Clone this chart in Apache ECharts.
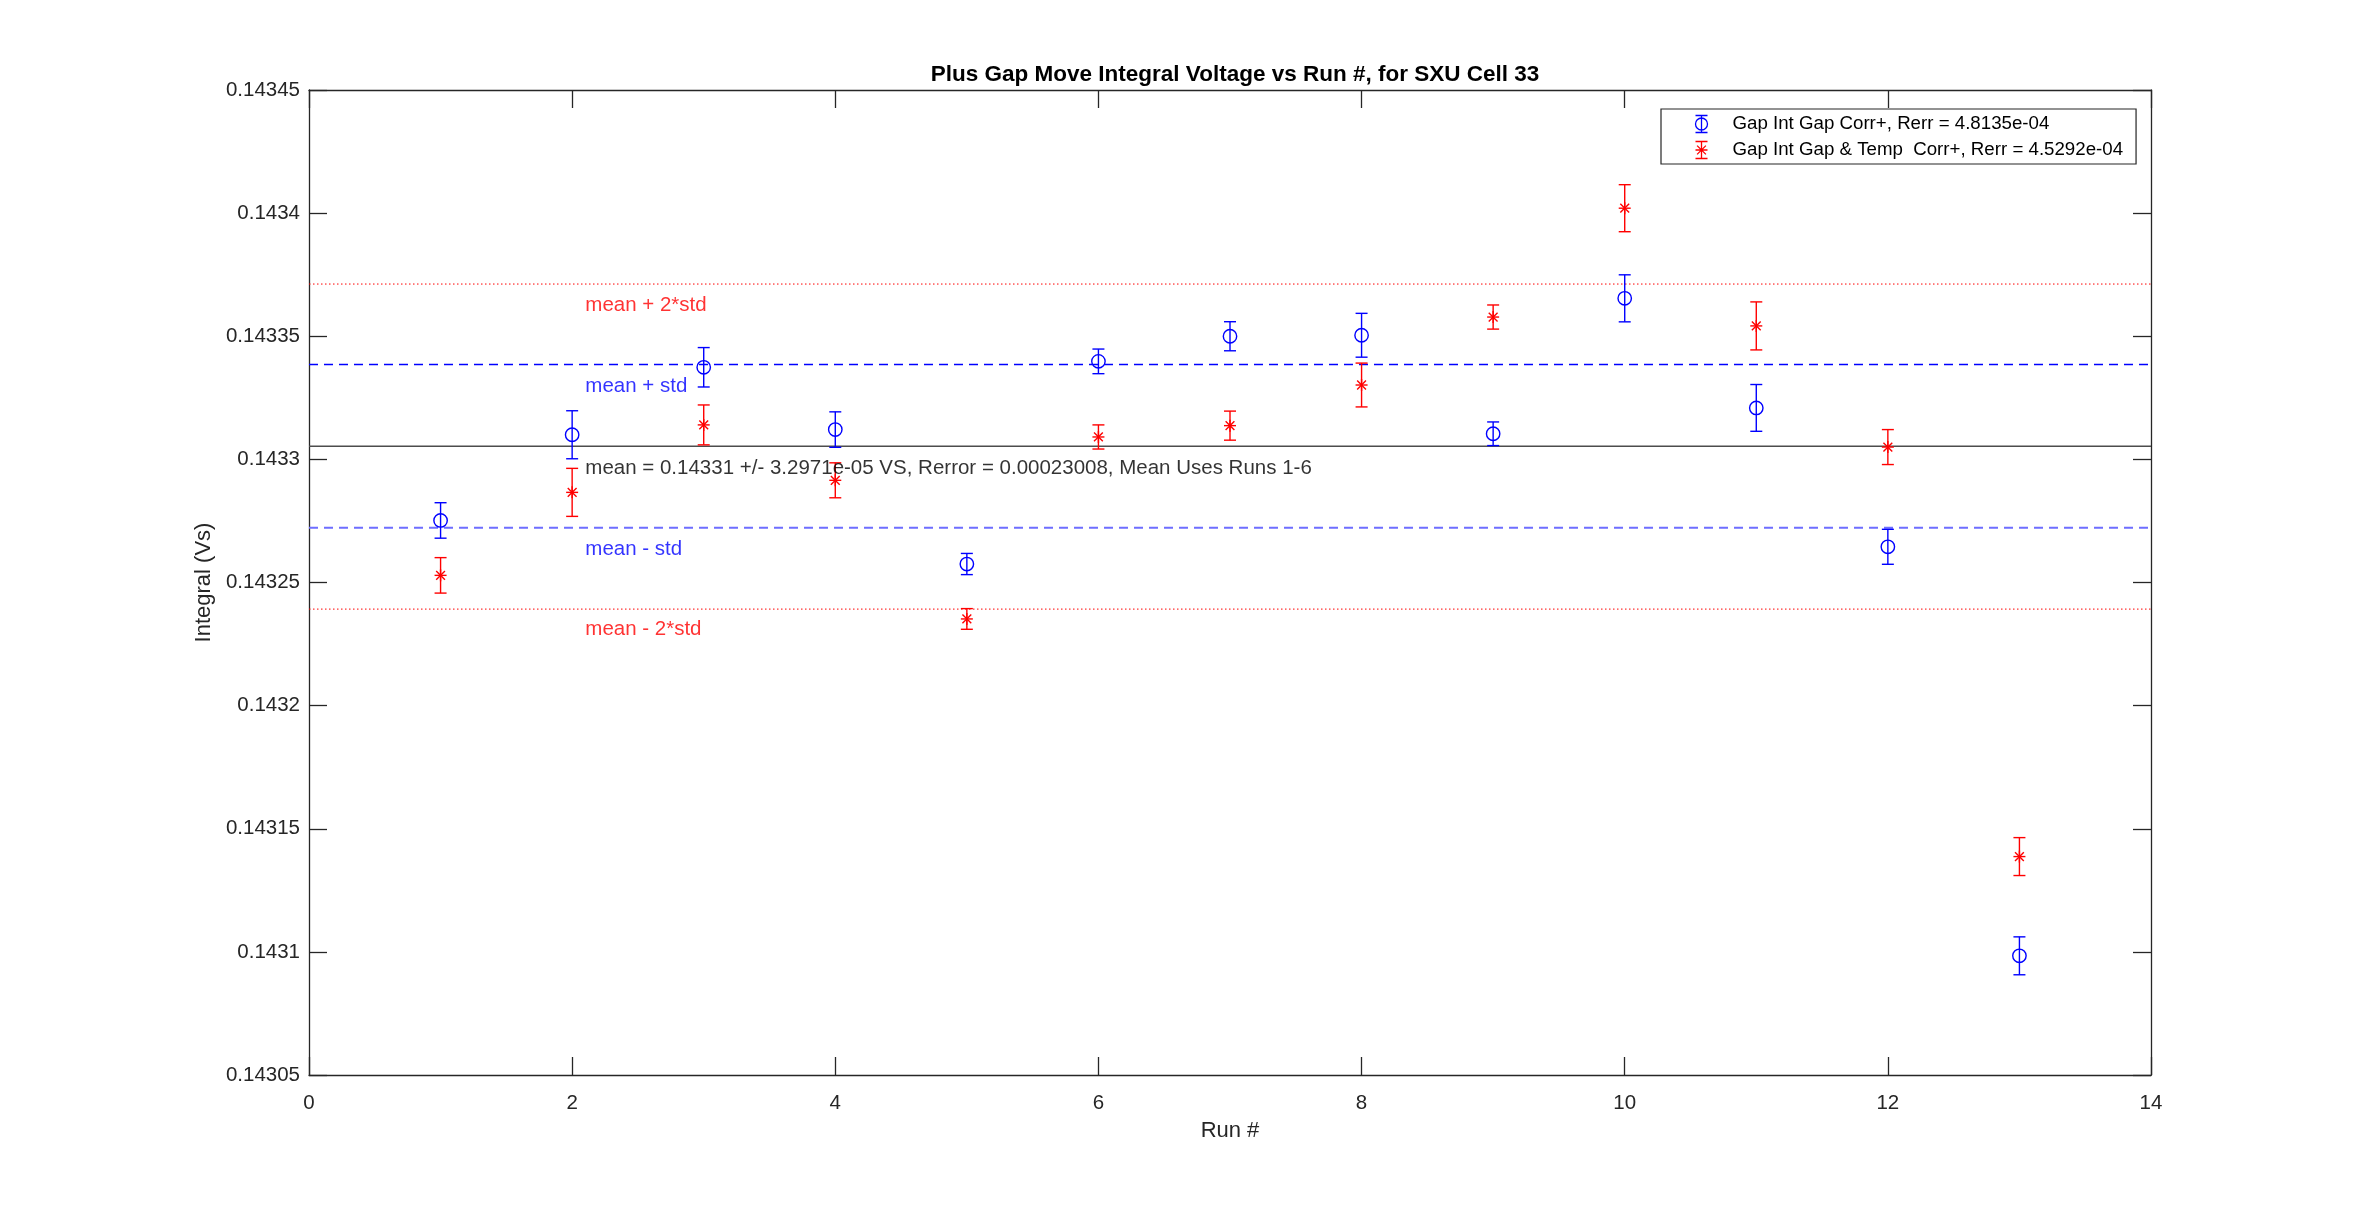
<!DOCTYPE html>
<html><head><meta charset="utf-8">
<script src="https://cdn.jsdelivr.net/npm/echarts@6/dist/echarts.min.js"></script>
<style>html,body{margin:0;padding:0;background:#fff}#chart{width:2378px;height:1210px}</style>
</head><body><div id="chart"></div>
<script>
// ---------------- data ----------------
const runs = [1, 2, 3, 4, 5, 6, 7, 8, 9, 10, 11, 12, 13];
const gapCorr = [0.1432752, 0.1433100, 0.1433374, 0.1433121, 0.1432575, 0.1433398, 0.1433500,
                 0.1433504, 0.1433104, 0.1433654, 0.1433209, 0.1432645, 0.1430984];
const gapCorrErr = [7.2e-6, 9.75e-6, 8.0e-6, 7.2e-6, 4.3e-6, 5.0e-6, 5.9e-6,
                    8.9e-6, 4.8e-6, 9.55e-6, 9.5e-6, 7.1e-6, 7.7e-6];
const gapTempCorr = [0.1432529, 0.1432866, 0.1433140, 0.1432915, 0.1432352, 0.1433091, 0.1433137,
                     0.1433302, 0.1433578, 0.1434020, 0.1433542, 0.1433050, 0.1431387];
const gapTempCorrErr = [7.2e-6, 9.75e-6, 8.1e-6, 7.1e-6, 4.2e-6, 4.9e-6, 5.9e-6,
                        8.9e-6, 4.9e-6, 9.55e-6, 9.75e-6, 7.1e-6, 7.7e-6];
const seriesNames = ['Gap Int Gap Corr+, Rerr = 4.8135e-04',
                     'Gap Int Gap & Temp  Corr+, Rerr = 4.5292e-04'];
const refLineNames = ['mean + 2*std', 'mean + std', 'mean', 'mean - std', 'mean - 2*std'];
const refLineValues = [0.1433712, 0.1433385, 0.1433053, 0.1432722, 0.1432392];
const annotationTexts = ['mean + 2*std', 'mean + std',
  'mean = 0.14331 +/- 3.2971e-05 VS, Rerror = 0.00023008, Mean Uses Runs 1-6',
  'mean - std', 'mean - 2*std'];
const annotationX = [2.1, 2.1, 2.1, 2.1, 2.1];
const annotationY = [0.1433626, 0.1433298, 0.1432965, 0.1432636, 0.1432308];
const xMin = 0, xMax = 14, xStep = 2;
const yMin = 0.14305, yMax = 0.14345, yStep = 0.00005;
const titleText = 'Plus Gap Move Integral Voltage vs Run #, for SXU Cell 33';
const xName = 'Run #';
const yName = 'Integral (Vs)';

// ---------------- styles ----------------
const BLUE = '#0000ff', RED = '#ff0000', AX = '#262626';
const FONT = '"Liberation Sans", Arial, Helvetica, sans-serif';
const refLineStyles = [
  { color: RED, width: 1, type: [1.5, 2.5] },
  { color: BLUE, width: 1.5, type: [9, 6] },
  { color: '#4d4d4d', width: 1.6, type: 'solid' },
  { color: '#6e6eff', width: 2, type: [9, 6] },
  { color: RED, width: 1, type: [1.5, 2.5] }
];
const annotationColors = [RED, BLUE, '#000000', BLUE, RED];

function makeRender(color, marker) {
  return function (params, api) {
    const x = api.value(0), y = api.value(1), e = api.value(2);
    const c = api.coord([x, y]);
    const t = api.coord([x, y + e]);
    const b = api.coord([x, y - e]);
    const cap = 6, lw = 1.4;
    const st = { stroke: color, lineWidth: lw, fill: 'none' };
    const ch = [
      { type: 'line', shape: { x1: c[0], y1: t[1], x2: c[0], y2: b[1] }, style: st },
      { type: 'line', shape: { x1: c[0] - cap, y1: t[1], x2: c[0] + cap, y2: t[1] }, style: st },
      { type: 'line', shape: { x1: c[0] - cap, y1: b[1], x2: c[0] + cap, y2: b[1] }, style: st }
    ];
    if (marker === 'circle') {
      ch.push({ type: 'circle', shape: { cx: c[0], cy: c[1], r: 6.7 }, style: st });
    } else {
      const r = 6, d = 4.4;
      ch.push({ type: 'line', shape: { x1: c[0] - r, y1: c[1], x2: c[0] + r, y2: c[1] }, style: st });
      ch.push({ type: 'line', shape: { x1: c[0], y1: c[1] - r, x2: c[0], y2: c[1] + r }, style: st });
      ch.push({ type: 'line', shape: { x1: c[0] - d, y1: c[1] - d, x2: c[0] + d, y2: c[1] + d }, style: st });
      ch.push({ type: 'line', shape: { x1: c[0] - d, y1: c[1] + d, x2: c[0] + d, y2: c[1] - d }, style: st });
    }
    return { type: 'group', children: ch };
  };
}

const blueData = runs.map((r, i) => [r, gapCorr[i], gapCorrErr[i]]);
const redData = runs.map((r, i) => [r, gapTempCorr[i], gapTempCorrErr[i]]);
const annData = annotationTexts.map((t, i) => ({
  value: [annotationX[i], annotationY[i]],
  label: { formatter: t, color: annotationColors[i] }
}));

const iconBlue = 'path://M0,0.5L12,0.5M6,0.5L6,17.5M0,17.5L12,17.5M12,9A6,6 0 1 1 0,9A6,6 0 1 1 12,9';
const iconRed = 'path://M0,0.5L12,0.5M6,0.5L6,17.5M0,17.5L12,17.5M0,9L12,9M1.6,4.6L10.4,13.4M10.4,4.6L1.6,13.4';

const yFmt = v => String(+(+v).toFixed(5));

function axisBase() {
  return {
    axisLine: { show: true, onZero: false, lineStyle: { color: AX, width: 1.3 } },
    axisTick: { show: true, inside: true, length: 18, lineStyle: { color: AX, width: 1.3 } },
    splitLine: { show: false }
  };
}

const refSeries = refLineValues.map((v, i) => ({
  type: 'line', name: refLineNames[i], data: [[xMin, v], [xMax, v]],
  showSymbol: false, symbol: 'none', silent: true, z: 2,
  lineStyle: refLineStyles[i]
}));

const option = {
  animation: false,
  backgroundColor: '#ffffff',
  title: {
    text: titleText, left: 1230, top: 58, textAlign: 'center',
    textStyle: { fontFamily: FONT, fontSize: 22.5, fontWeight: 'bold', color: '#000' }
  },
  legend: {
    orient: 'vertical', left: 1661, top: 109,
    padding: [4, 13, 3, 32], itemGap: 4, itemWidth: 12, itemHeight: 18,
    borderColor: AX, borderWidth: 1.2, backgroundColor: '#fff',
    selectedMode: false,
    textStyle: { fontFamily: FONT, fontSize: 18.7, color: '#000', padding: [0, 0, 0, 20] },
    data: [
      { name: seriesNames[0], icon: iconBlue, itemStyle: { color: 'none', borderColor: BLUE, borderWidth: 1.3 } },
      { name: seriesNames[1], icon: iconRed, itemStyle: { color: 'none', borderColor: RED, borderWidth: 1.3 } }
    ]
  },
  grid: { left: 309, top: 90, width: 1842, height: 985, containLabel: false },
  xAxis: [
    Object.assign(axisBase(), {
      type: 'value', min: xMin, max: xMax, interval: xStep, position: 'bottom',
      name: xName, nameLocation: 'middle', nameGap: 45,
      nameTextStyle: { fontFamily: FONT, fontSize: 22, color: AX },
      axisLabel: { fontFamily: FONT, fontSize: 20.5, color: AX, margin: 18 }
    }),
    Object.assign(axisBase(), {
      type: 'value', min: xMin, max: xMax, interval: xStep, position: 'top',
      axisLabel: { show: false }
    })
  ],
  yAxis: [
    Object.assign(axisBase(), {
      type: 'value', min: yMin, max: yMax, interval: yStep, position: 'left',
      name: yName, nameLocation: 'middle', nameGap: 89, nameRotate: 90,
      nameTextStyle: { fontFamily: FONT, fontSize: 22, color: AX },
      axisLabel: { fontFamily: FONT, fontSize: 20.5, color: AX, margin: 9, padding: [4, 0, 0, 0], formatter: yFmt }
    }),
    Object.assign(axisBase(), {
      type: 'value', min: yMin, max: yMax, interval: yStep, position: 'right',
      axisLabel: { show: false }
    })
  ],
  series: refSeries.concat([
    {
      type: 'custom', name: seriesNames[0], data: blueData,
      renderItem: makeRender(BLUE, 'circle'), encode: { x: 0, y: 1 }, z: 3, silent: true
    },
    {
      type: 'custom', name: seriesNames[1], data: redData,
      renderItem: makeRender(RED, 'asterisk'), encode: { x: 0, y: 1 }, z: 3, silent: true
    },
    {
      type: 'scatter', name: 'annotations', data: annData, symbolSize: 0, silent: true, z: 4,
      label: { show: true, position: 'right', distance: 0, fontFamily: FONT, fontSize: 20.5 }
    }
  ])
};

const chart = echarts.init(document.getElementById('chart'), null, { renderer: 'canvas' });
chart.setOption(option);
</script></body></html>
